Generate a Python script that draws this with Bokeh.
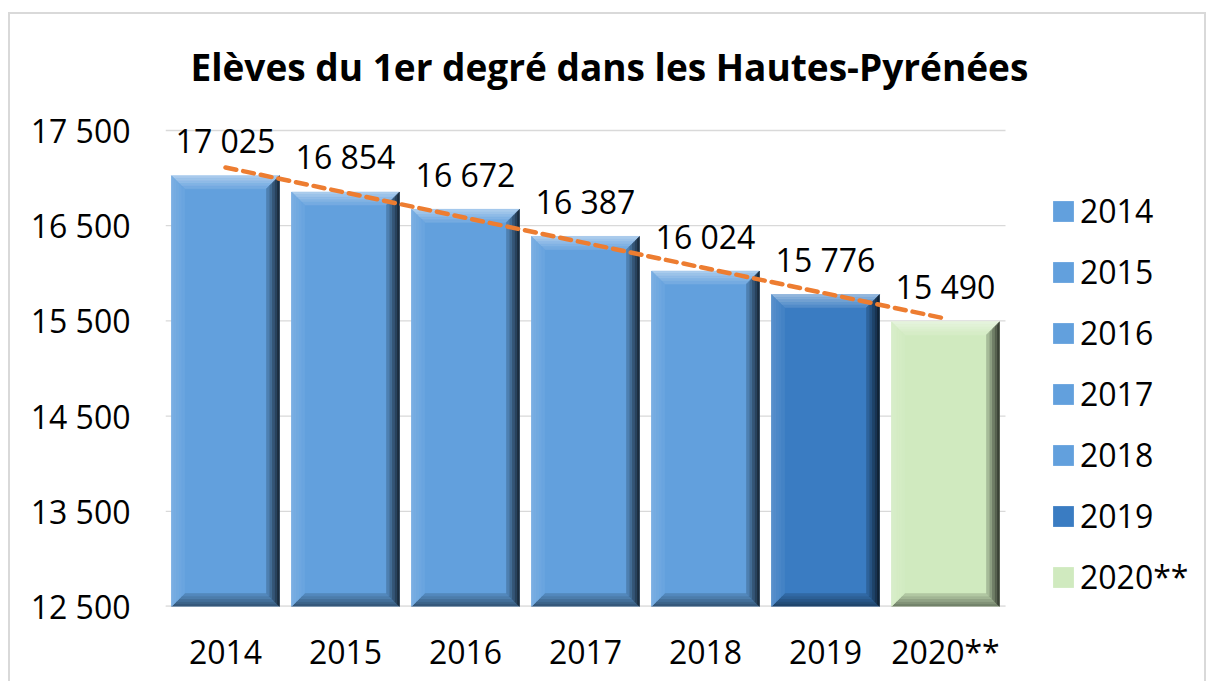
import numpy as np
from bokeh.plotting import figure
from bokeh.models import Range1d, FixedTicker, Legend, LegendItem, ColumnDataSource
from bokeh.embed import file_html
from bokeh.resources import INLINE
from bokeh.core.properties import value

# ---------------- data ----------------
years = ["2014", "2015", "2016", "2017", "2018", "2019", "2020**"]
eleves = [17025, 16854, 16672, 16387, 16024, 15776, 15490]
value_labels = ["17 025", "16 854", "16 672", "16 387", "16 024", "15 776", "15 490"]
y_ticks = [12500, 13500, 14500, 15500, 16500, 17500]
y_tick_labels = ["12 500", "13 500", "14 500", "15 500", "16 500", "17 500"]
title_text = "Elèves du 1er degré dans les Hautes-Pyrénées"

# ---------------- style ----------------
bar_colors = ["#62a0dd", "#62a0dd", "#62a0dd", "#62a0dd", "#62a0dd", "#3a7cc2", "#d0eabf"]
FONT = "Open Sans"
Y0, Y1 = 12500, 17500
PX_PER_UNIT_Y = 476.0 / (Y1 - Y0)
TOP_PAD_PX = 30                       # room above the top gridline for value labels
y_top = Y1 + TOP_PAD_PX / PX_PER_UNIT_Y
W, H = 1194, 667
BL, BR, BT, BB = 155, 5, 86, 75
frame_w = W - BL - BR
frame_h = H - BT - BB
CAT_PX = 120.0                      # pixels per category
n = len(years)
x_end = -0.5 + frame_w / CAT_PX     # frame extends to the right to host the legend
bar_w = 0.9

p = figure(width=W, height=H, output_backend="svg", toolbar_location=None,
           x_range=Range1d(-0.5, x_end), y_range=Range1d(Y0, y_top),
           min_border_left=BL, min_border_right=BR, min_border_top=BT, min_border_bottom=BB,
           title=title_text)
p.styles = {"outline": "2px solid #d9d9d9", "margin-left": "10px", "margin-top": "14px"}
p.outline_line_color = None
p.background_fill_color = "white"
p.border_fill_color = "white"

p.title.text_font = FONT
p.title.text_font_size = "37px"
p.title.text_font_style = "bold"
p.title.text_color = "black"
p.title.align = "left"
p.title.offset = 25
p.title.standoff = 18

# axes
p.xaxis.ticker = FixedTicker(ticks=list(range(n)))
p.xaxis.major_label_overrides = {i: y for i, y in enumerate(years)}
p.yaxis.ticker = FixedTicker(ticks=y_ticks)
p.yaxis.major_label_overrides = {t: l for t, l in zip(y_ticks, y_tick_labels)}
for ax in (p.xaxis, p.yaxis):
    ax.major_tick_line_color = None
    ax.minor_tick_line_color = None
    ax.major_tick_out = 0
    ax.major_tick_in = 0
    ax.axis_line_color = None
    ax.major_label_text_font = FONT
    ax.major_label_text_font_size = "32px"
    ax.major_label_text_color = "black"
p.xaxis.major_label_standoff = 23
p.yaxis.major_label_standoff = 35
p.xgrid.grid_line_color = None
p.ygrid.grid_line_color = None

# gridlines limited to the category area
p.segment(x0=[-0.5] * len(y_ticks), x1=[n - 0.5] * len(y_ticks), y0=y_ticks, y1=y_ticks,
          line_color="#d9d9d9", line_width=1.3)
p.segment(x0=[-0.5], x1=[n - 0.5], y0=[Y0], y1=[Y0], line_color="#d9d9d9", line_width=2)


def mix(c, target, t):
    c = c.lstrip("#")
    r, g, b = int(c[0:2], 16), int(c[2:4], 16), int(c[4:6], 16)
    tr, tg, tb = target
    r = r + (tr - r) * t
    g = g + (tg - g) * t
    b = b + (tb - b) * t
    return "#%02x%02x%02x" % (int(round(r)), int(round(g)), int(round(b)))


WHITE = (255, 255, 255)
BLACK = (0, 0, 0)

# main bars (one renderer per year for the legend)
renderers = []
xs = list(range(n))
for i, (yr, v, c) in enumerate(zip(years, eleves, bar_colors)):
    src = ColumnDataSource(dict(left=[xs[i] - bar_w / 2], right=[xs[i] + bar_w / 2],
                                top=[v], bottom=[Y0]))
    r = p.quad(left="left", right="right", top="top", bottom="bottom", source=src,
               fill_color=c, line_color=None)
    renderers.append(r)

# bevel shading
px_x = 1.0 / CAT_PX
px_y = 1.0 / PX_PER_UNIT_Y
B = 13.0
N = 5
pxs, pys, pcs = [], [], []
for i, (v, c) in enumerate(zip(eleves, bar_colors)):
    l, r_, b, t = xs[i] - bar_w / 2, xs[i] + bar_w / 2, Y0, v
    for k in range(N):
        d0, d1 = k * B / N, (k + 1) * B / N
        d0x, d1x, d0y, d1y = d0 * px_x, d1 * px_x, d0 * px_y, d1 * px_y
        f = k / (N - 1)
        # top
        pxs.append([l + d0x, r_ - d0x, r_ - d1x, l + d1x])
        pys.append([t - d0y, t - d0y, t - d1y, t - d1y])
        pcs.append(mix(c, WHITE, 0.45 * (1 - f) + 0.12 * f))
        # bottom
        pxs.append([l + d0x, r_ - d0x, r_ - d1x, l + d1x])
        pys.append([b + d0y, b + d0y, b + d1y, b + d1y])
        pcs.append(mix(c, BLACK, 0.45 * (1 - f) + 0.15 * f))
        # left
        pxs.append([l + d0x, l + d1x, l + d1x, l + d0x])
        pys.append([b + d0y, b + d1y, t - d1y, t - d0y])
        pcs.append(mix(c, WHITE, 0.15 * (1 - f) + 0.05 * f))
        # right
        pxs.append([r_ - d0x, r_ - d1x, r_ - d1x, r_ - d0x])
        pys.append([b + d0y, b + d1y, t - d1y, t - d0y])
        pcs.append(mix(c, BLACK, 0.72 * (1 - f) + 0.2 * f))
p.patches(xs=pxs, ys=pys, fill_color=pcs, line_color=pcs, line_width=0.6)

# linear trend line
slope, intercept = np.polyfit(xs, eleves, 1)
tx = [xs[0], xs[-1]]
ty = [intercept + slope * xs[0], intercept + slope * xs[-1]]
p.line(tx, ty, line_color="#ed7d31", line_width=4.5, line_dash="11 7", line_cap="round")

# data labels
lab_src = ColumnDataSource(dict(x=xs, y=eleves, text=value_labels))
p.text(x="x", y="y", text="text", source=lab_src, text_align="center",
       text_baseline="alphabetic", y_offset=-35, text_font=value(FONT),
       text_font_size="32px", text_color="black")

# legend (inside the widened frame, right of the bars)
legend = Legend(items=[LegendItem(label=yr, renderers=[r]) for yr, r in zip(years, renderers)],
                location=(885, 8), orientation="vertical")
legend.border_line_color = None
legend.background_fill_alpha = 0
legend.padding = 0
legend.margin = 0
legend.spacing = 18
legend.glyph_width = 26
legend.glyph_height = 26
legend.label_height = 40
legend.label_standoff = 4
legend.label_text_font = FONT
legend.label_text_font_size = "32px"
legend.label_text_color = "black"
legend.label_text_baseline = "middle"
p.add_layout(legend, "center")

open("out.html", "w").write(file_html(p, INLINE))
